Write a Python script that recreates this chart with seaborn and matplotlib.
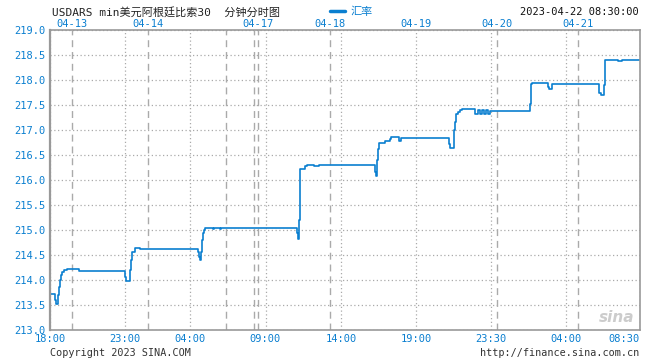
import matplotlib
matplotlib.use("Agg")
import matplotlib.pyplot as plt
import matplotlib.transforms as mtransforms
import seaborn as sns

# ── data (x = sample offset along the axis) ────────────────────────────
step_x = [0, 5, 6, 8, 9, 10, 11, 12, 14, 17, 22, 29, 75, 76, 80, 81, 82, 85, 90,
          148, 149, 150, 151, 152, 153, 154, 155, 163, 164, 170, 171,
          247, 248, 249, 250, 255, 257, 264, 269,
          325, 326, 327, 328, 329, 335, 340, 341, 349, 351,
          399, 400, 404, 405, 406, 408, 410, 412, 425, 428, 430, 432, 434, 436, 438, 440,
          480, 481, 482, 498, 499, 502, 549, 551, 554, 555, 568, 572, 590]
rate = [213.73, 213.60, 213.52, 213.70, 213.87, 214.00, 214.10, 214.17, 214.20, 214.22,
        214.23, 214.19, 214.07, 213.98, 214.20, 214.40, 214.57, 214.65, 214.63,
        214.57, 214.47, 214.41, 214.57, 214.80, 214.95, 215.00, 215.05, 215.03, 215.05,
        215.03, 215.05,
        214.95, 214.83, 215.20, 216.23, 216.28, 216.31, 216.29, 216.31,
        216.17, 216.09, 216.41, 216.63, 216.75, 216.78, 216.83, 216.87, 216.79, 216.85,
        216.73, 216.65, 217.00, 217.17, 217.33, 217.37, 217.40, 217.42, 217.33, 217.40,
        217.33, 217.40, 217.33, 217.40, 217.33, 217.39,
        217.53, 217.93, 217.95, 217.87, 217.83, 217.92, 217.75, 217.70, 217.90, 218.41,
        218.39, 218.41, 218.41]

time_pos = [0, 75, 140, 215.5, 291, 366, 441, 516, 590]
time_labels = ["18:00", "23:00", "04:00", "09:00", "14:00", "19:00", "23:30", "04:00", "08:30"]
date_pos = [22, 98, 176, 204, 208, 280, 366, 447, 528]
date_labels = ["04-13", "04-14", "", "", "04-17", "04-18", "04-19", "04-20", "04-21"]
y_ticks = [213.0, 213.5, 214.0, 214.5, 215.0, 215.5, 216.0, 216.5, 217.0, 217.5, 218.0, 218.5, 219.0]

BLUE = "#0a7fd0"
GRID = "#aaaaaa"
MONO = ["DejaVu Sans Mono", "Noto Sans CJK SC"]

sns.set_style("white")
plt.rcParams["font.family"] = MONO

fig = plt.figure(figsize=(6.6, 3.6), dpi=100)
ax = fig.add_axes([50 / 660, 30 / 360, 590 / 660, 300 / 360])

# ── the rate line ──────────────────────────────────────────────────────
sns.lineplot(x=step_x, y=rate, ax=ax, color=BLUE, linewidth=1.2,
             drawstyle="steps-post", legend=False)

ax.set_xlim(0, 590)
ax.set_ylim(213, 219)

# ── grid: dotted for times / values, dashed for day boundaries ─────────
ax.set_yticks(y_ticks)
ax.set_yticklabels([f"{v:.1f}" for v in y_ticks])
ax.set_xticks(time_pos)
ax.set_xticklabels(time_labels)
ax.set_xticks(date_pos, minor=True)
ax.grid(True, which="major", color=GRID, linestyle=(0, (1, 2)), linewidth=0.9)
ax.grid(True, which="minor", axis="x", color=GRID, linestyle=(0, (5, 3.5)), linewidth=1)
ax.set_axisbelow(True)
ax.tick_params(axis="both", which="both", length=0, labelcolor=BLUE, labelsize=7.5)
ax.tick_params(axis="y", pad=3)
ax.tick_params(axis="x", pad=3)
ax.get_xticklabels()[-1].set_horizontalalignment("right")
ax.get_xticklabels()[-1].set_x(ax.get_xticklabels()[-1].get_position()[0])

for side in ["left", "bottom", "right", "top"]:
    ax.spines[side].set_color("#999999")
    ax.spines[side].set_linewidth(1.2)
ax.spines["left"].set_linewidth(1.6)

# ── date labels above the plot ────────────────────────────────────────
trans = mtransforms.blended_transform_factory(ax.transData, fig.transFigure)
for pos, lab in zip(date_pos, date_labels):
    if lab:
        ax.text(pos, 1 - 24 / 360, lab, transform=trans, ha="center", va="center",
                color=BLUE, fontsize=7.5)

# ── header texts ───────────────────────────────────────────────────────
fig.text(52 / 660, 1 - 12 / 360, "USDARS min美元阿根廷比索30  分钟分时图",
         ha="left", va="center", fontsize=8, color="#222222", family=MONO)
fig.add_artist(plt.Line2D([330 / 660, 345 / 660], [1 - 11 / 360, 1 - 11 / 360],
                          color=BLUE, linewidth=2.5))
fig.text(350 / 660, 1 - 12 / 360, "汇率", ha="left", va="center", fontsize=8,
         color=BLUE, family=MONO)
fig.text(639 / 660, 1 - 12 / 360, "2023-04-22 08:30:00", ha="right", va="center",
         fontsize=7.5, color="#111111")

# ── footer texts ───────────────────────────────────────────────────────
fig.text(50 / 660, 1 - 353 / 360, "Copyright 2023 SINA.COM", ha="left", va="center",
         fontsize=7.3, color="#333333")
fig.text(639 / 660, 1 - 353 / 360, "http://finance.sina.com.cn", ha="right", va="center",
         fontsize=7.3, color="#333333")
fig.text(634 / 660, 1 - 318 / 360, "sina", ha="right", va="center", fontsize=11,
         color="#cccccc", style="italic", weight="bold", family="DejaVu Sans")

fig.savefig("out.png", dpi=100)
